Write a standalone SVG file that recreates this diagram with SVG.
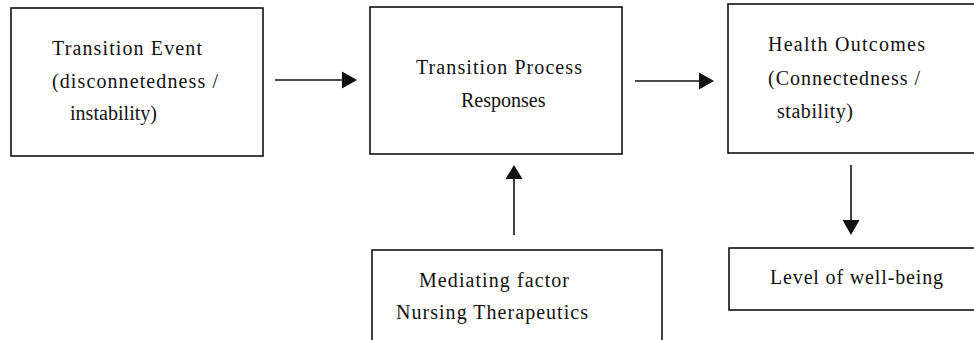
<svg xmlns="http://www.w3.org/2000/svg" width="974" height="340" viewBox="0 0 974 340">
<style>
.box{fill:#fff;stroke:#111;stroke-width:1.6}
.t{font-family:"Liberation Serif","Times New Roman",serif;font-size:20px;fill:#111}
.c{stroke:#111;stroke-width:1.6;fill:none}
.h{fill:#111}
</style>
<rect width="974" height="340" fill="#fff"/>
<g id="transition-event">
<rect class="box" x="11" y="8" width="252" height="148"/>
<text class="t" x="52" y="55" textLength="150">Transition Event</text>
<text class="t" x="52" y="88" textLength="166">(disconnetedness /</text>
<text class="t" x="70" y="120" textLength="87">instability)</text>
</g>
<g id="transition-process">
<rect class="box" x="370" y="7" width="252" height="147"/>
<text class="t" x="416" y="74" textLength="166">Transition Process</text>
<text class="t" x="461" y="107">Responses</text>
</g>
<g id="health-outcomes">
<rect class="box" x="728" y="4" width="260" height="149"/>
<text class="t" x="768" y="51" textLength="157">Health Outcomes</text>
<text class="t" x="768" y="85" textLength="152">(Connectedness /</text>
<text class="t" x="777" y="118" textLength="76">stability)</text>
</g>
<g id="mediating-factor">
<rect class="box" x="372" y="250" width="290" height="100"/>
<text class="t" x="419" y="287" textLength="150">Mediating factor</text>
<text class="t" x="396" y="319" textLength="192">Nursing Therapeutics</text>
</g>
<g id="well-being">
<rect class="box" x="729" y="248" width="260" height="62"/>
<text class="t" x="770" y="284" textLength="173">Level of well-being</text>
</g>
<g id="connectors">
<line class="c" x1="275" y1="80" x2="344" y2="80"/>
<polygon class="h" points="342,71.5 357,80 342,88.5"/>
<line class="c" x1="635" y1="81" x2="701" y2="81"/>
<polygon class="h" points="699,72.5 714,81 699,89.5"/>
<line class="c" x1="514" y1="235" x2="514" y2="176"/>
<polygon class="h" points="505.5,179 514,165 522.5,179"/>
<line class="c" x1="851" y1="165" x2="851" y2="222"/>
<polygon class="h" points="842.5,220 851,235 859.5,220"/>
</g>
</svg>
